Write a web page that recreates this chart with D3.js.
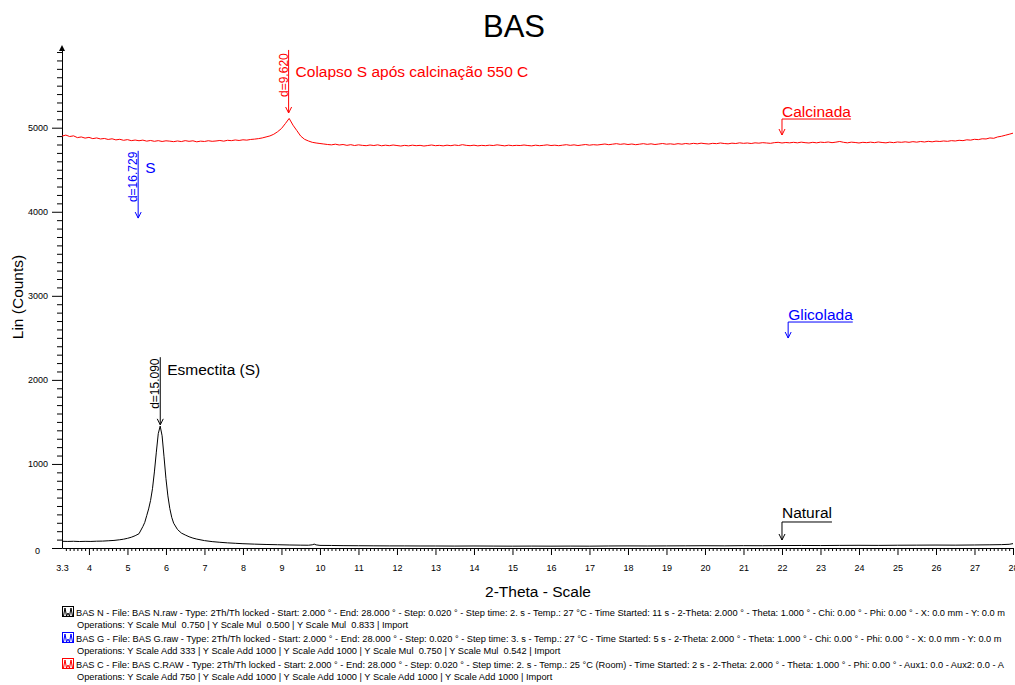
<!DOCTYPE html>
<html>
<head>
<meta charset="utf-8">
<script src="https://cdn.jsdelivr.net/npm/d3@7"></script>
<style>
  body { margin: 0; background: #fff; }
  svg { display: block; font-family: "Liberation Sans", Arial, sans-serif; }
</style>
</head>
<body>
<div id="chart"></div>
<script>
/**
 * Data
 */
// Natural sample (black): 2-theta positions and counts
var natTheta = [3.3,3.45,3.6,3.75,3.9,4.05,4.2,4.35,4.5,4.65,
  4.8,4.9,5.0,5.1,5.2,5.3,5.4,5.45,5.5,5.55,
  5.6,5.65,5.7,5.75,5.8,5.85,5.9,5.95,6.0,6.05,
  6.1,6.15,6.2,6.3,6.4,6.5,6.6,6.7,6.8,7.0,
  7.2,7.4,7.6,7.8,8.0,8.3,8.6,8.9,9.2,9.5,
  9.7,9.8,9.85,9.9,10.0,10.3,10.6,11.0,11.4,11.8,
  12.2,12.6,13.0,13.5,14.0,14.5,15.0,15.5,16.0,16.5,
  17.0,17.5,18.0,18.5,19.0,19.5,20.0,20.5,21.0,21.5,
  22.0,22.5,23.0,23.5,24.0,24.5,25.0,25.5,26.0,26.5,
  27.0,27.4,27.7,27.9,28.0];
var natCounts = [80,78,80,77,79,78,81,82,86,90,
  98,105,115,128,146,170,255,305,385,465,
  565,705,905,1140,1360,1450,1335,1085,825,620,
  470,365,295,220,178,155,134,118,106,88,
  76,68,61,56,51,46,42,39,36,34,
  33,38,46,37,31,30,28,27,26,25,
  25,24,24,23,24,23,22,23,22,23,
  22,24,25,24,25,26,27,26,28,27,
  29,30,29,31,32,31,33,34,35,34,
  36,38,40,44,52];

// Calcined sample (red): scan grid and counts
var calcStart = 3.3;
var calcStep = 0.1;
var calcCounts = [
  4900,4912,4895,4903,4882,4890,4876,4885,4870,4878,
  4866,4872,4860,4868,4855,4862,4850,4858,4846,4853,
  4845,4852,4840,4848,4838,4846,4836,4844,4840,4834,
  4842,4835,4846,4838,4844,4832,4840,4836,4845,4838,
  4842,4848,4840,4850,4846,4854,4848,4856,4852,4860,
  4864,4870,4878,4890,4902,4922,4952,4990,5048,5110,
  5030,4965,4900,4862,4842,4826,4818,4812,4806,4800,
  4796,4804,4794,4800,4790,4798,4788,4796,4790,4786,
  4794,4788,4796,4785,4792,4786,4794,4788,4782,4790,
  4784,4792,4786,4790,4782,4788,4794,4786,4790,4784,
  4792,4786,4794,4788,4798,4790,4786,4792,4784,4790,
  4786,4792,4788,4796,4790,4784,4792,4786,4790,4788,
  4794,4788,4784,4792,4786,4790,4796,4788,4792,4786,
  4792,4798,4790,4796,4788,4794,4800,4792,4798,4794,
  4800,4806,4798,4804,4810,4802,4808,4800,4806,4798,
  4804,4810,4802,4808,4800,4806,4812,4804,4808,4802,
  4810,4804,4812,4806,4814,4808,4816,4810,4806,4814,
  4810,4818,4812,4808,4816,4812,4820,4814,4818,4812,
  4820,4816,4822,4818,4814,4822,4826,4818,4824,4820,
  4826,4820,4828,4822,4818,4826,4820,4828,4824,4830,
  4822,4828,4836,4826,4820,4828,4824,4818,4826,4822,
  4828,4822,4830,4824,4820,4828,4822,4830,4826,4832,
  4826,4834,4828,4836,4830,4838,4832,4840,4836,4842,
  4838,4846,4842,4850,4846,4856,4852,4862,4858,4868,
  4866,4878,4874,4890,4898,4910,4922,4935];

// tick labels
var xTicks = [3.3,4,5,6,7,8,9,10,11,12,13,14,15,16,17,18,19,20,21,22,23,24,25,26,27,28];
var yTicks = [0,1000,2000,3000,4000,5000];

// peak annotations (d-spacing)
var peakD = ["d=15.090", "d=9.620", "d=16.729"];
var peakTheta = [5.852, 9.186, 5.278];
var peakTop = [2270, 5925, 4725];
var peakTip = [1465, 5175, 3925];
var peakNames = ["Esmectita (S)", "Colapso S após calcinação 550 C", "S"];
var peakNameY = [2058, 5603, 4461];
var peakColors = ["#000000", "#ff0000", "#0000ff"];

// series labels
var seriesNames = ["Natural", "Glicolada", "Calcinada"];
var seriesTheta = [22.0, 22.16, 22.0];
var seriesTextY = [357, 2712, 5127];
var seriesTip = [95, 2498, 4913];
var seriesColors = ["#000000", "#0000ff", "#ff0000"];

// legend text
var legendNames = [
  "BAS N - File: BAS N.raw - Type: 2Th/Th locked - Start: 2.000 ° - End: 28.000 ° - Step: 0.020 ° - Step time: 2. s - Temp.: 27 °C - Time Started: 11 s - 2-Theta: 2.000 ° - Theta: 1.000 ° - Chi: 0.00 ° - Phi: 0.00 ° - X: 0.0 mm - Y: 0.0 m",
  "BAS G - File: BAS G.raw - Type: 2Th/Th locked - Start: 2.000 ° - End: 28.000 ° - Step: 0.020 ° - Step time: 3. s - Temp.: 27 °C - Time Started: 5 s - 2-Theta: 2.000 ° - Theta: 1.000 ° - Chi: 0.00 ° - Phi: 0.00 ° - X: 0.0 mm - Y: 0.0 m",
  "BAS C - File: BAS C.RAW - Type: 2Th/Th locked - Start: 2.000 ° - End: 28.000 ° - Step: 0.020 ° - Step time: 2. s - Temp.: 25 °C (Room) - Time Started: 2 s - 2-Theta: 2.000 ° - Theta: 1.000 ° - Phi: 0.00 ° - Aux1: 0.0 - Aux2: 0.0 - A"
];
var legendOps = [
  "Operations: Y Scale Mul  0.750 | Y Scale Mul  0.500 | Y Scale Mul  0.833 | Import",
  "Operations: Y Scale Add 333 | Y Scale Add 1000 | Y Scale Add 1000 | Y Scale Mul  0.750 | Y Scale Mul  0.542 | Import",
  "Operations: Y Scale Add 750 | Y Scale Add 1000 | Y Scale Add 1000 | Y Scale Add 1000 | Y Scale Add 1000 | Import"
];
var legendColors = ["#000000", "#0000ff", "#ff0000"];

/**
 * Chart setup
 */
var svgWidth = 1015;
var svgHeight = 685;

var svg = d3.select("#chart")
  .append("svg")
  .attr("width", svgWidth)
  .attr("height", svgHeight);

svg.append("rect").attr("width", svgWidth).attr("height", svgHeight).attr("fill", "#fff");

var xScale = d3.scaleLinear().domain([3.3, 28]).range([62, 1013]);
var yScale = d3.scaleLinear().domain([0, 5960]).range([548, 47]);

// title
svg.append("text")
  .attr("x", 514).attr("y", 37)
  .attr("text-anchor", "middle")
  .attr("font-size", 31)
  .text("BAS");

// minor ticks x
var xMinor = d3.range(34, 280).filter(d => d % 10 !== 0).map(d => d / 10);
svg.append("g")
  .attr("transform", "translate(0,548)")
  .call(d3.axisBottom(xScale).tickValues(xMinor).tickSize(3).tickFormat(""))
  .call(g => g.select(".domain").remove());

// major x axis
var xAxisG = svg.append("g")
  .attr("transform", "translate(0,548)")
  .call(d3.axisBottom(xScale).tickValues(xTicks).tickSize(7).tickSizeOuter(0).tickPadding(10)
    .tickFormat(d => d === 3.3 ? "3.3" : d));
xAxisG.selectAll("text").attr("font-size", 9).attr("font-family", "Liberation Sans, Arial, sans-serif").attr("fill", "#000");
xAxisG.select(".tick").select("line").remove();

// minor ticks y
var yMinor = d3.range(1, 60).filter(d => d % 10 !== 0).map(d => d * 100);
svg.append("g")
  .attr("transform", "translate(62,0)")
  .call(d3.axisLeft(yScale).tickValues(yMinor).tickSize(5).tickFormat(""))
  .call(g => g.select(".domain").remove());

// major y axis
var yAxisG = svg.append("g")
  .attr("transform", "translate(62,0)")
  .call(d3.axisLeft(yScale).tickValues(yTicks).tickSize(10).tickSizeOuter(0).tickPadding(4)
    .tickFormat(d3.format("d")));
yAxisG.selectAll("text").attr("font-size", 9).attr("font-family", "Liberation Sans, Arial, sans-serif").attr("fill", "#000");
yAxisG.selectAll(".tick").filter(d => d === 0).select("text").attr("x", -22).attr("dy", "0.6em");

// arrow on top of y axis
svg.append("path")
  .attr("d", "M62,45 L59,51 L65,51 Z")
  .attr("fill", "#000");

// axis titles
svg.append("text")
  .attr("x", 538).attr("y", 597)
  .attr("text-anchor", "middle")
  .attr("font-size", 15.5)
  .text("2-Theta - Scale");

svg.append("text")
  .attr("transform", "translate(23,297) rotate(-90)")
  .attr("text-anchor", "middle")
  .attr("font-size", 15.5)
  .text("Lin (Counts)");

/**
 * Curves
 */
var line = d3.line()
  .x(d => xScale(d[0]))
  .y(d => yScale(d[1]));

var natData = natTheta.map((t, i) => [t, natCounts[i]]);
var calcData = calcCounts.map((c, i) => [calcStart + i * calcStep, c]);

svg.append("path")
  .datum(natData)
  .attr("d", line)
  .attr("fill", "none")
  .attr("stroke", "#000")
  .attr("stroke-width", 1);

svg.append("path")
  .datum(calcData)
  .attr("d", line)
  .attr("fill", "none")
  .attr("stroke", "#ff0000")
  .attr("stroke-width", 1);

/**
 * Annotations
 */
// open arrow head at (x, y) pointing down
function arrowHead(g, x, y, color) {
  g.append("path")
    .attr("d", `M${x - 3},${y - 6} L${x},${y} L${x + 3},${y - 6}`)
    .attr("fill", "none")
    .attr("stroke", color)
    .attr("stroke-width", 1);
}

var annot = svg.append("g");

peakD.forEach((label, i) => {
  var x = xScale(peakTheta[i]);
  var y0 = yScale(peakTop[i]);
  var y1 = yScale(peakTip[i]);
  annot.append("line")
    .attr("x1", x).attr("x2", x)
    .attr("y1", y0).attr("y2", y1)
    .attr("stroke", peakColors[i]);
  arrowHead(annot, x, y1, peakColors[i]);
  annot.append("text")
    .attr("transform", `translate(${x - 1},${y1 - 16}) rotate(-90)`)
    .attr("font-size", 12)
    .attr("fill", peakColors[i])
    .text(label);
  annot.append("text")
    .attr("x", x + 7).attr("y", yScale(peakNameY[i]))
    .attr("font-size", 15.5)
    .attr("fill", peakColors[i])
    .text(peakNames[i]);
});

seriesNames.forEach((name, i) => {
  var x = xScale(seriesTheta[i]);
  var ty = yScale(seriesTextY[i]);
  var txt = annot.append("text")
    .attr("x", x).attr("y", ty)
    .attr("font-size", 15.5)
    .attr("fill", seriesColors[i])
    .text(name);
  var w = txt.node().getComputedTextLength();
  var uy = ty + (i === 0 ? 4 : 2);
  var tip = yScale(seriesTip[i]);
  annot.append("path")
    .attr("d", `M${x + w},${uy} L${x},${uy} L${x},${tip}`)
    .attr("fill", "none")
    .attr("stroke", seriesColors[i]);
  arrowHead(annot, x, tip, seriesColors[i]);
});

/**
 * Legend
 */
var legend = svg.append("g");
legendNames.forEach((name, i) => {
  var base = 616 + i * 26;
  var c = legendColors[i];
  legend.append("rect")
    .attr("x", 62.5).attr("y", base - 9.5)
    .attr("width", 11).attr("height", 10)
    .attr("fill", "#fff")
    .attr("stroke", c);
  legend.append("path")
    .attr("d", `M63.5,${base} L65,${base - 8} L66.5,${base} L68,${base - 3} L69.5,${base} L71,${base - 8} L72.5,${base}`)
    .attr("fill", "none")
    .attr("stroke", c);
  legend.append("text")
    .attr("x", 76).attr("y", base)
    .attr("font-size", 9.25)
    .style("white-space", "pre")
    .text(name);
  legend.append("text")
    .attr("x", 77).attr("y", base + 12)
    .attr("font-size", 9.25)
    .style("white-space", "pre")
    .text(legendOps[i]);
});
</script>
</body>
</html>
